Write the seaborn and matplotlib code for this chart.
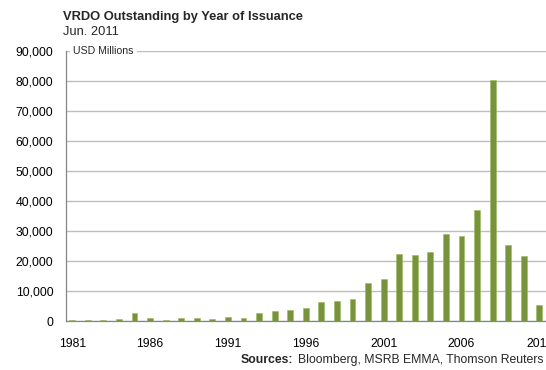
import matplotlib
matplotlib.use("Agg")
import matplotlib.pyplot as plt
import seaborn as sns
import pandas as pd

years = list(range(1981, 2012))
values = [300, 300, 300, 700, 2700, 1100, 300, 1000, 1000, 700,
          1400, 1000, 2700, 3300, 3800, 4500, 6200, 6800, 7500, 12700,
          14000, 22300, 21900, 22900, 29000, 28500, 37000, 80500, 25300, 21700,
          5200]
xticks = [1981, 1986, 1991, 1996, 2001, 2006, 2011]
yticks = list(range(0, 90001, 10000))

sns.set_theme(style="white")
plt.rcParams['font.family'] = ['Liberation Sans', 'DejaVu Sans']

df = pd.DataFrame({"year": years, "value": values})

fig = plt.figure(figsize=(5.46, 3.70), dpi=100)
ax = fig.add_axes([66/546, 1-321/370, (546-63)/546, (321-51)/370])

sns.barplot(data=df, x="year", y="value", native_scale=True, width=0.38,
            color="#77933C", saturation=1, edgecolor="#9BBB59", linewidth=0.4,
            ax=ax, zorder=3)

ax.set_xlim(1980.6, 2011.62)
ax.set_ylim(0, 90000)
ax.set_xticks(xticks)
ax.set_xticklabels([str(t) for t in xticks])
ax.set_yticks(yticks)
ax.set_yticklabels([f"{t:,}" for t in yticks])
ax.tick_params(axis="both", length=0, labelsize=8.8, colors="#000000")
ax.tick_params(axis="y", pad=9)
ax.tick_params(axis="x", pad=12)
ax.set_xlabel("")
ax.set_ylabel("")
ax.yaxis.grid(True, color="#BDBDBD", linewidth=1.0, zorder=0)
ax.set_axisbelow(True)
for s in ["top", "right"]:
    ax.spines[s].set_visible(False)
ax.spines["left"].set_color("#868686")
ax.spines["left"].set_linewidth(0.9)
ax.spines["bottom"].set_color("#868686")
ax.spines["bottom"].set_linewidth(0.9)

ax.text(0.015, 1.0, "USD Millions", transform=ax.transAxes, fontsize=7.6,
        ha="left", va="center",
        bbox=dict(boxstyle="square,pad=0.3", fc="white", ec="none"), zorder=5)

fig.text(63/546, 1-17/370, "VRDO Outstanding by Year of Issuance", fontsize=9.3,
         fontweight="bold", ha="left", va="center")
fig.text(63/546, 1-32/370, "Jun. 2011", fontsize=9.3, ha="left", va="center")

rest = fig.text(543/546, 1-360/370, "Bloomberg, MSRB EMMA, Thomson Reuters",
                fontsize=8.8, ha="right", va="center")
renderer = fig.canvas.get_renderer()
bb = rest.get_window_extent(renderer=renderer)
fig.text((bb.x0 - 4) / fig.bbox.width, 1-360/370, "Sources:", fontsize=8.8,
         fontweight="bold", ha="right", va="center")

fig.savefig("out.png", dpi=100)
